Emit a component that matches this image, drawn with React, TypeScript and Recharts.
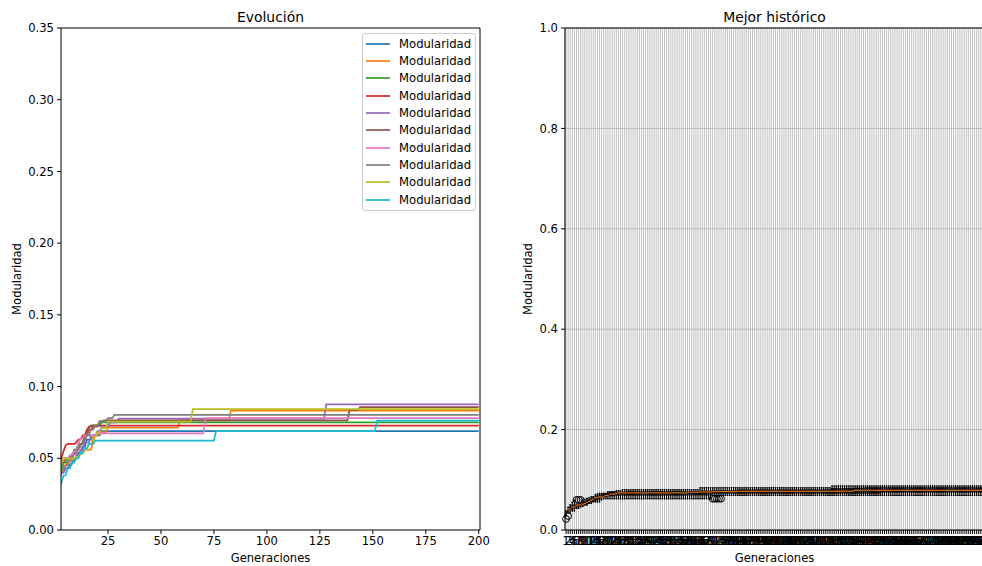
import React from 'react'
import {
  LineChart,
  Line,
  ComposedChart,
  Bar,
  XAxis,
  YAxis,
  Legend,
  CartesianGrid,
  ReferenceLine,
} from 'recharts'

// generation labels (1..200) and the ten runs, stored as the generations where
// each run's best modularity changed: [generation, value]
const GENERATIONS = Array.from({ length: 200 }, (_, i) => i + 1)

const RUN_0 = [[1, 0.030], [2, 0.036], [3, 0.040], [5, 0.043], [7, 0.046], [9, 0.050], [11, 0.054], [13, 0.058], [15, 0.063], [18, 0.066], [22, 0.069]]
const RUN_1 = [[1, 0.033], [2, 0.040], [4, 0.045], [6, 0.048], [8, 0.050], [11, 0.053], [13, 0.056], [18, 0.062], [19, 0.066], [21, 0.068], [25, 0.0713], [59, 0.0765], [83, 0.0832]]
const RUN_2 = [[1, 0.036], [2, 0.042], [4, 0.047], [6, 0.050], [9, 0.056], [11, 0.060], [14, 0.066], [16, 0.072], [17, 0.073], [22, 0.0751]]
const RUN_3 = [[1, 0.038], [2, 0.045], [3, 0.050], [4, 0.055], [5, 0.059], [6, 0.060], [10, 0.061], [11, 0.063], [13, 0.066], [15, 0.070], [16, 0.072], [18, 0.0728]]
const RUN_4 = [[1, 0.028], [2, 0.034], [3, 0.040], [5, 0.043], [7, 0.044], [8, 0.048], [10, 0.052], [12, 0.056], [14, 0.061], [17, 0.066], [20, 0.069], [22, 0.072], [26, 0.075], [30, 0.0777], [128, 0.0876]]
const RUN_5 = [[1, 0.034], [2, 0.040], [3, 0.047], [5, 0.050], [8, 0.053], [10, 0.056], [12, 0.060], [14, 0.066], [16, 0.070], [18, 0.072], [21, 0.0755], [23, 0.0765], [139, 0.0835], [144, 0.0857]]
const RUN_6 = [[1, 0.032], [2, 0.040], [3, 0.046], [4, 0.050], [7, 0.052], [9, 0.055], [11, 0.060], [12, 0.064], [14, 0.066], [20, 0.0674], [71, 0.0780]]
const RUN_7 = [[1, 0.030], [2, 0.037], [3, 0.042], [5, 0.045], [7, 0.050], [9, 0.053], [11, 0.058], [13, 0.062], [15, 0.066], [17, 0.070], [19, 0.073], [21, 0.076], [25, 0.078], [28, 0.0802]]
const RUN_8 = [[1, 0.034], [2, 0.040], [3, 0.046], [4, 0.050], [10, 0.051], [12, 0.053], [14, 0.056], [16, 0.060], [18, 0.065], [20, 0.068], [22, 0.071], [25, 0.0755], [65, 0.0843]]
const RUN_9 = [[1, 0.022], [2, 0.028], [3, 0.033], [4, 0.038], [6, 0.043], [8, 0.047], [10, 0.050], [12, 0.054], [14, 0.057], [16, 0.060], [19, 0.0623], [76, 0.069], [152, 0.0762]]

const RUNS = [RUN_0, RUN_1, RUN_2, RUN_3, RUN_4, RUN_5, RUN_6, RUN_7, RUN_8, RUN_9]
const COLORS = ['#1f77b4', '#ff7f0e', '#2ca02c', '#d62728', '#9467bd', '#8c564b', '#e377c2', '#7f7f7f', '#bcbd22', '#17becf']
const SERIES_NAME = 'Modularidad'

const LEFT_Y_TICKS = [0, 0.05, 0.1, 0.15, 0.2, 0.25, 0.3, 0.35]
const LEFT_X_TICKS = [25, 50, 75, 100, 125, 150, 175, 200]
const RIGHT_Y_TICKS = [0, 0.2, 0.4, 0.6, 0.8, 1.0]

const FONT = '"DejaVu Sans", sans-serif'
const TICK = { fill: '#000', fontSize: 11.6 }

// value of a run at every generation (a run keeps its best value until it improves)
function expand(steps: number[][]) {
  let k = 0
  return GENERATIONS.map((g) => {
    while (k + 1 < steps.length && steps[k + 1][0] <= g) k++
    return steps[k][1]
  })
}

const runValues = RUNS.map(expand)

const lineData = GENERATIONS.map((g, i) => {
  const row: Record<string, number> = { gen: g }
  runValues.forEach((vals, r) => (row['r' + r] = vals[i]))
  return row
})

function quantile(sorted: number[], p: number) {
  const idx = p * (sorted.length - 1)
  const lo = Math.floor(idx)
  const hi = Math.ceil(idx)
  return sorted[lo] + (sorted[hi] - sorted[lo]) * (idx - lo)
}

// boxplot statistics per generation, like matplotlib's boxplot (whis = 1.5)
const boxData = GENERATIONS.map((g, i) => {
  const vals = runValues.map((v) => v[i]).sort((a, b) => a - b)
  const q1 = quantile(vals, 0.25)
  const med = quantile(vals, 0.5)
  const q3 = quantile(vals, 0.75)
  const iqr = q3 - q1
  const inside = vals.filter((v) => v >= q1 - 1.5 * iqr && v <= q3 + 1.5 * iqr)
  const wlo = Math.min(...inside)
  const whi = Math.max(...inside)
  const fliers = vals.filter((v) => v < wlo || v > whi)
  const min = vals[0]
  const max = vals[vals.length - 1]
  return { gen: String(g), range: [min, max], min, max, q1, med, q3, wlo, whi, fliers }
})

function BoxShape(props: any) {
  const { x, y, width, height, payload } = props
  if (x == null || y == null) return null
  const top = Math.min(y, y + height)
  const bottom = Math.max(y, y + height)
  const span = payload.max - payload.min
  const py = (v: number) => (span === 0 ? bottom : bottom - ((bottom - top) * (v - payload.min)) / span)
  const cx = x + width / 2
  const bw = width * 0.5
  const cw = width * 0.25
  const lw = 1.1
  return (
    <g>
      <line x1={cx} x2={cx} y1={py(payload.q1)} y2={py(payload.wlo)} stroke="#000" strokeWidth={lw} strokeLinecap="square" />
      <line x1={cx} x2={cx} y1={py(payload.q3)} y2={py(payload.whi)} stroke="#000" strokeWidth={lw} strokeLinecap="square" />
      <line x1={cx - cw / 2} x2={cx + cw / 2} y1={py(payload.wlo)} y2={py(payload.wlo)} stroke="#000" strokeWidth={lw} strokeLinecap="square" />
      <line x1={cx - cw / 2} x2={cx + cw / 2} y1={py(payload.whi)} y2={py(payload.whi)} stroke="#000" strokeWidth={lw} strokeLinecap="square" />
      <rect x={cx - bw / 2} y={py(payload.q3)} width={bw} height={py(payload.q1) - py(payload.q3)} fill="none" stroke="#000" strokeWidth={lw} />
      <line x1={cx - bw / 2} x2={cx + bw / 2} y1={py(payload.med)} y2={py(payload.med)} stroke="#ff7f0e" strokeWidth={lw} strokeLinecap="square" />
      {payload.fliers.map((v: number, k: number) => (
        <circle key={k} cx={cx} cy={py(v)} r={3.4} fill="none" stroke="#000" strokeWidth={1} />
      ))}
    </g>
  )
}

function LegendBox(props: any) {
  const items = props.payload || []
  return (
    <div
      style={{
        background: 'rgba(255,255,255,0.8)',
        border: '1px solid #cccccc',
        borderRadius: 3,
        padding: '1px 4px 2px 3px',
        boxSizing: 'border-box',
        width: 114,
        fontSize: 11.6,
        color: '#000',
      }}
    >
      {items.map((e: any, i: number) => (
        <div key={i} style={{ display: 'flex', alignItems: 'center', height: 17.33 }}>
          <svg width={25} height={4} style={{ display: 'block' }}>
            <line x1={0} x2={25} y1={2} y2={2} stroke={e.color} strokeWidth={1.7} />
          </svg>
          <span style={{ marginLeft: 9, lineHeight: '14px' }}>{e.value}</span>
        </div>
      ))}
    </div>
  )
}

const titleStyle: React.CSSProperties = {
  position: 'absolute',
  top: 9,
  width: 419,
  textAlign: 'center',
  fontSize: 13.9,
  lineHeight: '16px',
}

export default function App() {
  return (
    <div
      style={{
        position: 'fixed',
        left: 0,
        top: 0,
        width: 982,
        height: 566,
        overflow: 'hidden',
        background: '#fff',
        fontFamily: FONT,
        color: '#000',
      }}
    >
      <div style={{ ...titleStyle, left: 61 }}>Evolución</div>
      <div style={{ ...titleStyle, left: 565 }}>Mejor histórico</div>

      <div style={{ position: 'absolute', left: 0, top: 0 }}>
        <LineChart width={490} height={566} data={lineData} margin={{ top: 28, right: 10, left: 0, bottom: 0 }}>
          <XAxis
            dataKey="gen"
            type="number"
            domain={[2.8, 200.6]}
            allowDataOverflow
            ticks={LEFT_X_TICKS}
            tick={TICK}
            tickSize={4}
            tickMargin={3}
            height={36}
            stroke="#000"
            label={{ value: 'Generaciones', position: 'insideBottom', offset: 4, fill: '#000', fontSize: 11.6 }}
          />
          <YAxis
            type="number"
            domain={[0, 0.35]}
            allowDataOverflow
            ticks={LEFT_Y_TICKS}
            tickFormatter={(v: number) => v.toFixed(2)}
            tick={TICK}
            tickSize={4}
            tickMargin={3}
            width={61}
            stroke="#000"
            label={{ value: 'Modularidad', angle: -90, position: 'insideLeft', offset: 17, fill: '#000', fontSize: 11.6, style: { textAnchor: 'middle' } }}
          />
          <ReferenceLine y={0.35} stroke="#000" ifOverflow="visible" />
          <ReferenceLine x={200.6} stroke="#000" ifOverflow="visible" />
          {COLORS.map((c, r) => (
            <Line
              key={r}
              type="linear"
              dataKey={'r' + r}
              name={SERIES_NAME}
              stroke={c}
              strokeWidth={1.7}
              dot={false}
              activeDot={false}
              isAnimationActive={false}
            />
          ))}
          <Legend
            layout="vertical"
            align="center"
            verticalAlign="middle"
            content={LegendBox}
            wrapperStyle={{ top: 33, left: 362, width: 114, height: 'auto' }}
          />
        </LineChart>
      </div>

      <div style={{ position: 'absolute', left: 490, top: 0 }}>
        <ComposedChart width={500} height={566} data={boxData} barCategoryGap={0} margin={{ top: 28, right: 6, left: 0, bottom: 0 }}>
          <CartesianGrid stroke="#b0b0b0" strokeWidth={0.8} />
          <XAxis
            dataKey="gen"
            type="category"
            interval={0}
            tick={TICK}
            tickSize={4}
            tickMargin={3}
            height={36}
            stroke="#000"
            label={{ value: 'Generaciones', position: 'insideBottom', offset: 4, fill: '#000', fontSize: 11.6 }}
          />
          <YAxis
            type="number"
            domain={[0, 1]}
            ticks={RIGHT_Y_TICKS}
            tickFormatter={(v: number) => v.toFixed(1)}
            tick={TICK}
            tickSize={4}
            tickMargin={3}
            width={75}
            stroke="#000"
            label={{ value: 'Modularidad', angle: -90, position: 'insideLeft', offset: 38, fill: '#000', fontSize: 11.6, style: { textAnchor: 'middle' } }}
          />
          <ReferenceLine y={1} stroke="#000" ifOverflow="visible" />
          <Bar dataKey="range" shape={BoxShape} fill="none" isAnimationActive={false} />
        </ComposedChart>
      </div>
    </div>
  )
}
